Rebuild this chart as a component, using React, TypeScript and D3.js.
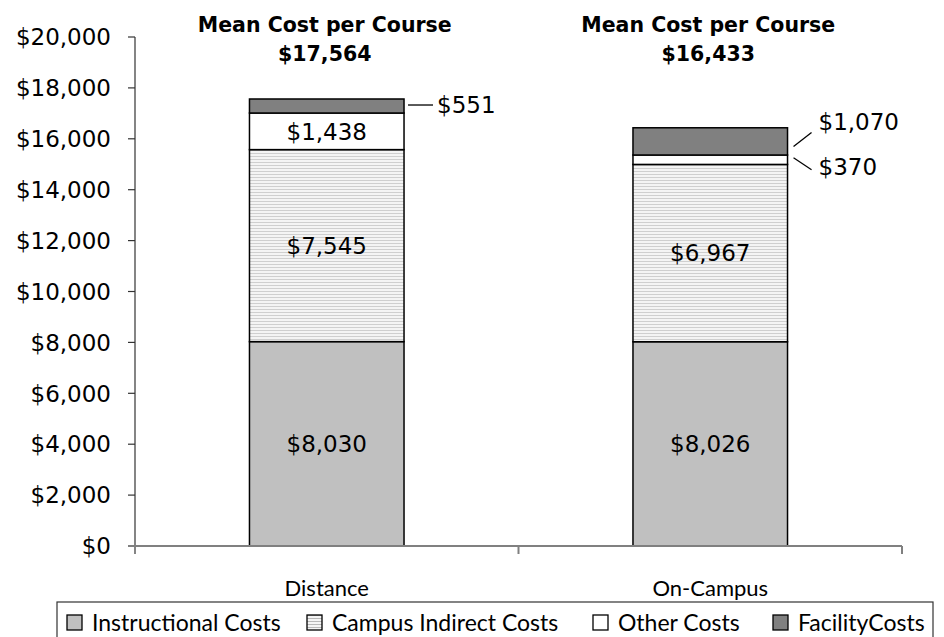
import React from "react";
import * as d3 from "d3";

const categories = ["Distance", "On-Campus"];
const seriesNames = ["Instructional Costs", "Campus Indirect Costs", "Other Costs", "FacilityCosts"];
const instructional = [8030, 8026];
const campusIndirect = [7545, 6967];
const otherCosts = [1438, 370];
const facilityCosts = [551, 1070];
const totals = [17564, 16433];
const yTicks = [0, 2000, 4000, 6000, 8000, 10000, 12000, 14000, 16000, 18000, 20000];

const W = 944;
const H = 637;
const M = { left: 135, right: 902, top: 37, bottom: 546 };
const NUM_FONT = "'DejaVu Sans', sans-serif";
const TXT_FONT = "Lato, 'Noto Sans', sans-serif";

const fills = ["#c0c0c0", "url(#hstripe)", "#ffffff", "#808080"];
const legendFills = ["#c0c0c0", "url(#hstripeSmall)", "#ffffff", "#808080"];

// outside label leader placements (relative to bar right edge and segment middle)
const outside: Record<string, { x1: number; y1: number; x2: number; y2: number; tx: number; ty: number }> = {
  "Distance|3": { x1: 4, y1: -1, x2: 29, y2: -1, tx: 33, ty: -1 },
  "On-Campus|2": { x1: 6, y1: -2, x2: 24, y2: 10, tx: 31, ty: 7 },
  "On-Campus|3": { x1: 6, y1: 5, x2: 24, y2: -9, tx: 31, ty: -20 },
};

const legendX = [67, 307, 593, 773];

export default function App() {
  const rows = categories.map((c, i) => ({
    cat: c,
    s0: instructional[i],
    s1: campusIndirect[i],
    s2: otherCosts[i],
    s3: facilityCosts[i],
  }));
  const stack = d3.stack<any>().keys(["s0", "s1", "s2", "s3"]);
  const stacked = stack(rows);

  const y = d3.scaleLinear().domain([0, 20000]).range([M.bottom, M.top]);
  const x = d3.scaleBand<string>().domain(categories).range([M.left, M.right]).padding(0);
  const barW = x.bandwidth() * 0.403;
  const fmt = (v: number) => "$" + d3.format(",")(v);

  return (
    <svg width={W} height={H} style={{ position: "absolute", left: 0, top: 0, background: "#fff" }}>
      <defs>
        <pattern id="hstripe" width="4" height="3" patternUnits="userSpaceOnUse">
          <rect width="4" height="3" fill="#f4f4f4" />
          <rect y="0" width="4" height="1" fill="#cfcfcf" />
        </pattern>
        <pattern id="hstripeSmall" width="4" height="3" patternUnits="userSpaceOnUse">
          <rect width="4" height="3" fill="#f4f4f4" />
          <rect y="0" width="4" height="1" fill="#b8b8b8" />
        </pattern>
      </defs>
      <rect width={W} height={H} fill="#fff" />

      {/* y axis */}
      <line x1={M.left} x2={M.left} y1={M.top} y2={M.bottom + 8} stroke="#333" strokeWidth={1.2} />
      {yTicks.map((t) => (
        <g key={t}>
          <line x1={M.left - 7} x2={M.left} y1={y(t)} y2={y(t)} stroke="#333" strokeWidth={1.2} />
          <text x={111} y={y(t)} dy="0.36em" textAnchor="end" fontFamily={NUM_FONT} fontSize={23} fill="#000">
            {fmt(t)}
          </text>
        </g>
      ))}

      {/* bars */}
      {stacked.map((layer, si) =>
        layer.map((d, ci) => {
          const cat = categories[ci];
          const cx = (x(cat) as number) + x.bandwidth() / 2;
          return (
            <rect
              key={si + "-" + ci}
              x={cx - barW / 2}
              y={y(d[1])}
              width={barW}
              height={y(d[0]) - y(d[1])}
              fill={fills[si]}
              stroke="#000"
              strokeWidth={1.5}
            />
          );
        })
      )}

      {/* x axis */}
      <line x1={M.left - 7} x2={M.right} y1={M.bottom} y2={M.bottom} stroke="#808080" strokeWidth={2} />
      {[M.left + x.bandwidth(), M.right].map((tx, i) => (
        <line key={i} x1={tx} x2={tx} y1={M.bottom} y2={M.bottom + 8} stroke="#808080" strokeWidth={2} />
      ))}
      {categories.map((c) => (
        <text key={c} x={(x(c) as number) + x.bandwidth() / 2} y={588} dy="0.36em" textAnchor="middle" fontFamily={TXT_FONT} fontSize={22} fill="#000">
          {c}
        </text>
      ))}

      {/* value labels */}
      {stacked.map((layer, si) =>
        layer.map((d, ci) => {
          const cat = categories[ci];
          const cx = (x(cat) as number) + x.bandwidth() / 2;
          const mid = (y(d[0]) + y(d[1])) / 2;
          const v = d[1] - d[0];
          const o = outside[cat + "|" + si];
          if (o) {
            const rx = cx + barW / 2;
            return (
              <g key={"l" + si + ci}>
                <line x1={rx + o.x1} y1={mid + o.y1} x2={rx + o.x2} y2={mid + o.y2} stroke="#000" strokeWidth={1.3} />
                <text x={rx + o.tx} y={mid + o.ty} dy="0.36em" fontFamily={NUM_FONT} fontSize={23} fill="#000">
                  {fmt(v)}
                </text>
              </g>
            );
          }
          return (
            <text key={"l" + si + ci} x={cx} y={mid} dy="0.36em" textAnchor="middle" fontFamily={NUM_FONT} fontSize={23} fill="#000">
              {fmt(v)}
            </text>
          );
        })
      )}

      {/* titles */}
      {categories.map((c, i) => {
        const cx = (x(c) as number) + x.bandwidth() / 2;
        return (
          <g key={"t" + c}>
            <text x={cx - 2} y={25} dy="0.36em" textAnchor="middle" fontFamily={NUM_FONT} fontWeight={700} fontSize={20.5} fill="#000">
              Mean Cost per Course
            </text>
            <text x={cx - 2} y={54} dy="0.36em" textAnchor="middle" fontFamily={NUM_FONT} fontWeight={700} fontSize={20.5} fill="#000">
              {fmt(totals[i])}
            </text>
          </g>
        );
      })}

      {/* legend */}
      <rect x={57} y={602} width={876} height={50} fill="none" stroke="#333" strokeWidth={1.2} />
      {seriesNames.map((n, i) => (
        <g key={n}>
          <rect x={legendX[i]} y={615} width={15} height={15} fill={legendFills[i]} stroke="#000" strokeWidth={1.3} />
          <text x={legendX[i] + 25} y={623} dy="0.36em" fontFamily={TXT_FONT} fontSize={23} fill="#000">
            {n}
          </text>
        </g>
      ))}
    </svg>
  );
}
